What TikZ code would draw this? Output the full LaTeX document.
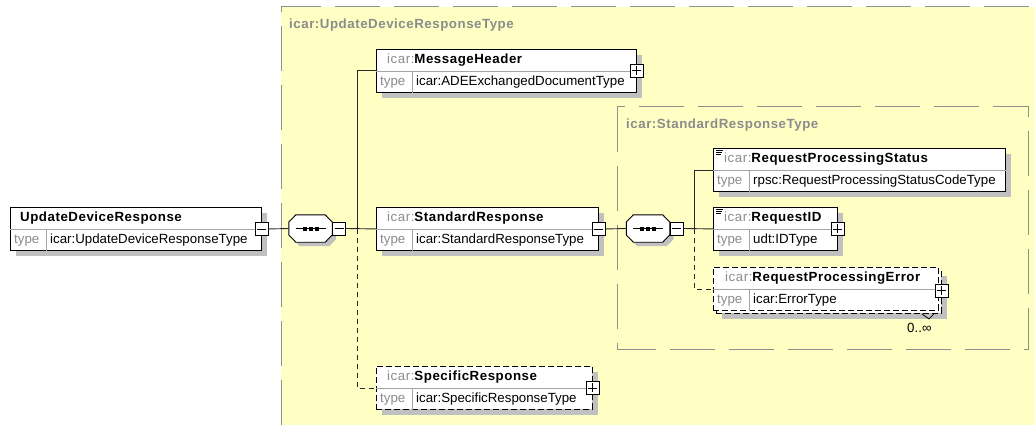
\documentclass[tikz,border=0pt]{standalone}
\usepackage{fontspec}
\setmainfont{Liberation Sans}
\newfontfamily\hdrfont[LetterSpace=4]{Liberation Sans}
\usetikzlibrary{calc}
\definecolor{grpfill}{RGB}{255,255,196}
\definecolor{grpline}{RGB}{144,144,144}
\definecolor{shadowgray}{RGB}{192,192,192}
\definecolor{lbl}{RGB}{140,140,140}
\definecolor{divline}{RGB}{165,165,165}
\definecolor{conn}{RGB}{40,40,40}
\tikzset{
 elembox/.style={draw=black, fill=white, line width=0.9pt, inner sep=0pt, anchor=north west, minimum height=43pt},
 optbox/.style={elembox, dash pattern=on 6pt off 3pt},
 btn/.style={draw=black, fill=white, line width=0.9pt, minimum size=13pt, inner sep=0pt},
 conline/.style={draw=conn, line width=0.9pt},
 optline/.style={conline, dash pattern=on 5pt off 4pt},
 grpborder/.style={draw=grpline, line width=1pt, dash pattern=on 45pt off 14pt},
 txt/.style={anchor=west, inner sep=0pt, font=\fontsize{13.3}{15}\selectfont},
 hdr/.style={anchor=west, inner sep=0pt, font=\hdrfont\fontsize{13.3}{15}\selectfont},
}
% #1 name #2 x #3 y #4 width #5 box style #6 prefix #7 name #8 type #9 header x offset
\newcommand\mkelem[9]{%
 \node[#5, minimum width=#4pt] (#1) at (#2,#3) {};
 \draw[divline, line width=0.8pt] (#1.west) -- (#1.east);
 \draw[divline, line width=0.8pt] ($(#1.south west)+(36,0)$) -- ($(#1.west)+(36,0)$);
 \node[hdr] at ($(#1.north west)+(#9,11.5)$) {\textcolor{lbl}{#6}\textbf{#7}};
 \node[txt, text=lbl] at ($(#1.west)+(4,11.5)$) {type};
 \node[txt] at ($(#1.west)+(40,11.5)$) {#8};
}
\newcommand\mkshadow[4]{\fill[shadowgray] (#1+#4,#2+#4) rectangle ++(#3,43);}
\newcommand\minusbtn[2]{%
 \node[btn] (#1) at (#2) {};
 \draw[line width=0.9pt] ($(#1.center)+(-4.5,0)$) -- ($(#1.center)+(4.5,0)$);}
\newcommand\plusbtn[2]{%
 \node[btn] (#1) at (#2) {};
 \draw[line width=0.9pt] ($(#1.center)+(-4.5,0)$) -- ($(#1.center)+(4.5,0)$)
   ($(#1.center)+(0,-4.5)$) -- ($(#1.center)+(0,4.5)$);}
\newcommand\octpath[1]{($(#1.west)+(0,-6.5)$) -- ($(#1.north west)+(7,0)$) -- ($(#1.north east)+(-7,0)$) -- ($(#1.east)+(0,-6.5)$) -- ($(#1.east)+(0,6.5)$) -- ($(#1.south east)+(-7,0)$) -- ($(#1.south west)+(7,0)$) -- ($(#1.west)+(0,6.5)$) -- cycle}
% #1 name #2 cx #3 cy
\newcommand\mkseq[3]{%
 \node[minimum width=43pt, minimum height=27pt, inner sep=0pt] (#1s) at (#2+4,#3+4) {};
 \fill[shadowgray] \octpath{#1s};
 \node[minimum width=43pt, minimum height=27pt, inner sep=0pt] (#1) at (#2,#3) {};
 \draw[fill=white, line width=0.9pt] \octpath{#1};
 \draw[line width=0.9pt] ($(#1.center)+(-15,0)$) -- ($(#1.center)+(15,0)$);
 \foreach \dx in {-6,0,6} \fill ($(#1.center)+(\dx-2,-2)$) rectangle ++(4,4);
 \minusbtn{#1b}{$(#1.east)+(7,0)$}
}
\newcommand\listicon[1]{%
 \draw[line width=0.8pt] ($(#1.north west)+(3,2.5)$) -- ++(7,0) ($(#1.north west)+(3,4.5)$) -- ++(6,0) ($(#1.north west)+(3,6.5)$) -- ++(5,0);}
\begin{document}
\begin{tikzpicture}[x=1pt,y=-1pt]
\useasboundingbox (0,0) rectangle (1035,425);
\fill[white] (0,0) rectangle (1035,425);
% outer group
\fill[grpfill] (281,7) rectangle (1035,425);
\draw[grpborder] (281,425) -- (281,7) -- (1035,7);
\node[hdr, text=lbl] (g1) at (289,25) {\textbf{icar:UpdateDeviceResponseType}};
% inner group
\draw[grpborder, fill=grpfill] (617,107) rectangle (1028,349);
\node[hdr, text=lbl] (g2) at (626,125.5) {\textbf{icar:StandardResponseType}};

% root element
\mkshadow{10}{207}{251}{6}
\mkelem{udr}{10}{207}{251}{elembox}{}{UpdateDeviceResponse}{icar:UpdateDeviceResponseType}{10}
\minusbtn{udrb}{udr.east}

% first sequence
\mkseq{seqa}{310.5}{228.5}

% children of outer type
\mkshadow{376}{49}{260}{6}
\mkelem{mh}{376}{49}{260}{elembox}{icar:}{MessageHeader}{icar:ADEExchangedDocumentType}{11}
\plusbtn{mhb}{mh.east}

\mkshadow{376}{207}{222}{6}
\mkelem{sr}{376}{207}{222}{elembox}{icar:}{StandardResponse}{icar:StandardResponseType}{11}
\minusbtn{srb}{sr.east}

\mkshadow{376}{366}{216}{6}
\mkelem{spr}{376}{366}{216}{optbox}{icar:}{SpecificResponse}{icar:SpecificResponseType}{11}
\plusbtn{sprb}{spr.east}

% second sequence
\mkseq{seqb}{648}{228.5}

% children of StandardResponseType
\mkshadow{713}{148}{292}{6}
\mkelem{rps}{713}{148}{292}{elembox}{icar:}{RequestProcessingStatus}{rpsc:RequestProcessingStatusCodeType}{11}
\listicon{rps}

\mkshadow{713}{207}{124}{6}
\mkelem{rid}{713}{207}{124}{elembox}{icar:}{RequestID}{udt:IDType}{11}
\listicon{rid}
\plusbtn{ridb}{rid.east}

\mkshadow{713}{267}{225}{9}
\node[optbox, minimum width=225pt] (rpeback) at (716,270) {};
\mkelem{rpe}{713}{267}{225}{optbox}{icar:}{RequestProcessingError}{icar:ErrorType}{12}
\plusbtn{rpeb}{$(rpeback.east)+(0,-1.5)$}
\draw[line width=0.8pt] ($(rpeback.south east)+(-20,0)$) -- ($(rpeback.south east)+(-13,5)$) -- ($(rpeback.south east)+(-8,0)$);
\node[txt] (occ) at (907,327.5) {0..∞};

% connectors
\draw[conline] (udrb.east) -- (seqa.west);
\coordinate (ja) at (357,228.5);
\draw[conline] (seqab.east) -- (sr.west);
\draw[conline] (mh.west) -| (ja);
\draw[optline] (ja) |- (spr.west);

\draw[conline] (srb.east) -- (seqb.west);
\coordinate (jb) at (694.5,228.5);
\draw[conline] (seqbb.east) -- (rid.west);
\draw[conline] (rps.west) -| (jb);
\draw[optline] (jb) |- (rpe.west);
\end{tikzpicture}
\end{document}
